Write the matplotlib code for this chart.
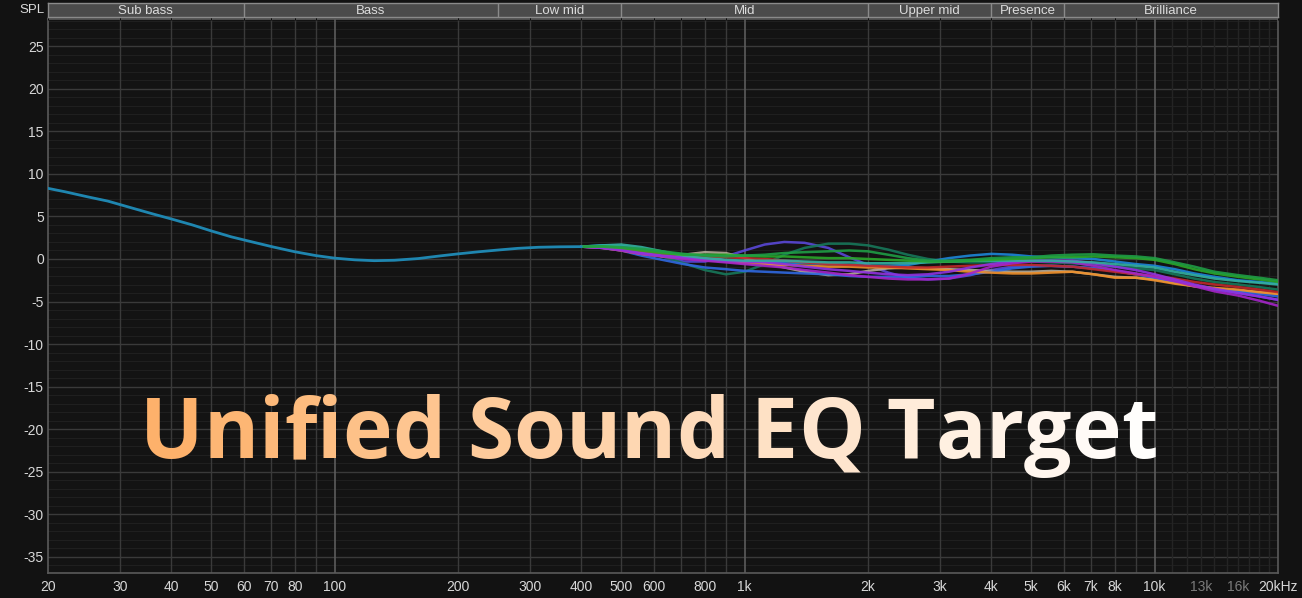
import numpy as np
import matplotlib.pyplot as plt
from matplotlib.font_manager import FontProperties
from matplotlib.colors import to_rgb

# ---- data ----
BASE_F = [20, 22, 25, 28, 32, 36, 40, 45, 50, 56, 63, 71, 80, 90, 100, 112, 125,
          140, 160, 180, 200, 225, 250, 280, 315, 355, 400]
BASE_DB = [8.3, 7.9, 7.3, 6.8, 6.0, 5.3, 4.7, 4.0, 3.3, 2.6, 2.0, 1.4, 0.85, 0.4,
           0.1, -0.1, -0.2, -0.15, 0.05, 0.35, 0.6, 0.85, 1.05, 1.25, 1.38, 1.43, 1.45]

HI_F = [400, 450, 500, 560, 630, 710, 800, 900, 1000, 1120, 1250, 1400, 1600, 1800,
        2000, 2240, 2500, 2800, 3150, 3550, 4000, 4500, 5000, 5600, 6300, 7100, 8000,
        9000, 10000, 11200, 12500, 14000, 16000, 18000, 20000]
CURVES = {
    "#5a48d8": [1.45, 1.45, 1.3, 0.9, 0.3, -0.3, -0.3, 0.3, 1.0, 1.7, 2.0, 1.9, 1.3, 0.2,
                -0.7, -1.6, -2.2, -2.4, -2.3, -1.9, -1.3, -0.9, -0.8, -0.8, -0.9, -1.1, -1.4,
                -1.8, -2.1, -2.6, -3.1, -3.6, -4.0, -4.4, -4.8],
    "#17785a": [1.45, 1.5, 1.3, 0.9, 0.3, -0.5, -1.3, -1.8, -1.5, -0.6, 0.5, 1.3, 1.8, 1.8,
                1.6, 1.1, 0.5, 0.0, -0.3, -0.4, -0.4, -0.3, -0.3, -0.4, -0.5, -0.7, -0.9,
                -1.1, -1.3, -1.8, -2.3, -2.7, -3.0, -3.3, -3.6],
    "#b5ab98": [1.45, 1.4, 1.2, 0.8, 0.5, 0.5, 0.8, 0.7, 0.1, -0.5, -1.0, -1.5, -1.9, -1.8,
                -1.4, -1.1, -1.0, -1.1, -1.2, -1.3, -1.4, -1.5, -1.5, -1.4, -1.5, -1.8, -2.1,
                -2.2, -2.4, -2.8, -3.2, -3.5, -3.7, -3.9, -4.1],
    "#2f68e0": [1.45, 1.3, 1.0, 0.4, -0.1, -0.6, -1.0, -1.2, -1.4, -1.5, -1.6, -1.7, -1.8,
                -2.0, -2.1, -2.1, -2.1, -2.0, -2.0, -1.8, -1.5, -1.1, -0.9, -0.8, -0.9, -1.1,
                -1.4, -1.8, -2.2, -2.7, -3.1, -3.5, -3.8, -4.1, -4.4],
    "#1d86d8": [1.45, 1.6, 1.5, 1.2, 0.7, 0.2, -0.1, -0.3, -0.3, -0.3, -0.4, -0.5, -0.6,
                -0.7, -0.8, -0.8, -0.7, -0.3, 0.1, 0.4, 0.6, 0.5, 0.3, 0.2, 0.1, 0.0, -0.3,
                -0.6, -0.8, -1.2, -1.7, -2.1, -2.5, -2.7, -2.9],
    "#f0902a": [1.45, 1.3, 1.0, 0.6, 0.3, 0.1, -0.1, -0.3, -0.5, -0.6, -0.7, -0.8, -0.9,
                -0.9, -1.0, -1.0, -1.1, -1.2, -1.3, -1.5, -1.6, -1.7, -1.7, -1.6, -1.5, -1.8,
                -2.2, -2.2, -2.5, -2.9, -3.2, -3.4, -3.6, -3.9, -4.1],
    "#c0282a": [1.45, 1.4, 1.2, 0.9, 0.6, 0.4, 0.3, 0.2, 0.1, 0.0, -0.2, -0.4, -0.6, -0.7,
                -0.8, -0.9, -1.0, -1.0, -0.9, -0.8, -0.7, -0.7, -0.7, -0.8, -0.9, -1.2, -1.5,
                -1.8, -2.0, -2.3, -2.7, -3.0, -3.3, -3.6, -3.9],
    "#a424c8": [1.45, 1.3, 1.0, 0.6, 0.3, 0.0, -0.2, -0.4, -0.6, -0.8, -1.0, -1.3, -1.6,
                -1.9, -2.1, -2.3, -2.4, -2.4, -2.3, -1.7, -0.9, -0.5, -0.3, -0.3, -0.4, -0.8,
                -1.3, -1.7, -2.1, -2.6, -3.2, -3.8, -4.3, -4.9, -5.5],
    "#9032e0": [1.45, 1.3, 1.1, 0.7, 0.4, 0.2, 0.0, -0.2, -0.3, -0.4, -0.6, -0.9, -1.2,
                -1.4, -1.6, -1.8, -1.9, -1.8, -1.5, -1.0, -0.6, -0.3, -0.2, -0.2, -0.2, -0.5,
                -0.9, -1.3, -1.8, -2.4, -3.0, -3.5, -4.0, -4.4, -4.8],
    "#33b0a0": [1.45, 1.6, 1.7, 1.4, 0.9, 0.4, 0.1, -0.1, -0.2, -0.2, -0.2, -0.3, -0.4,
                -0.4, -0.5, -0.5, -0.5, -0.4, -0.3, -0.2, -0.2, -0.2, -0.2, -0.2, -0.3, -0.4,
                -0.6, -0.8, -1.0, -1.5, -1.9, -2.3, -2.6, -2.8, -3.0],
    "#2aa82a": [1.45, 1.45, 1.3, 1.0, 0.7, 0.5, 0.5, 0.5, 0.4, 0.3, 0.3, 0.2, 0.1, 0.1,
                0.0, -0.1, -0.2, -0.3, -0.3, -0.2, -0.1, 0.0, 0.1, 0.2, 0.2, 0.3, 0.2, 0.1,
                -0.1, -0.6, -1.2, -1.7, -2.1, -2.4, -2.7],
    "#1f9e45": [1.45, 1.5, 1.4, 1.2, 0.9, 0.6, 0.4, 0.3, 0.4, 0.5, 0.7, 0.8, 0.9, 1.0,
                0.9, 0.5, 0.1, -0.2, -0.2, -0.1, 0.1, 0.2, 0.2, 0.4, 0.5, 0.55, 0.4, 0.3,
                0.1, -0.4, -0.9, -1.5, -1.9, -2.2, -2.5],
}

BAND_EDGES = [20, 60, 250, 500, 2000, 4000, 6000, 20000]
BAND_NAMES = ["Sub bass", "Bass", "Low mid", "Mid", "Upper mid", "Presence", "Brilliance"]

XTICKS = [20, 30, 40, 50, 60, 70, 80, 100, 200, 300, 400, 500, 600, 800, 1000,
          2000, 3000, 4000, 5000, 6000, 7000, 8000, 10000, 13000, 16000, 20000]
XLABELS = ["20", "30", "40", "50", "60", "70", "80", "100", "200", "300", "400", "500",
           "600", "800", "1k", "2k", "3k", "4k", "5k", "6k", "7k", "8k", "10k", "13k",
           "16k", "20kHz"]
DIM_LABELS = ["13k", "16k"]
YTICKS = list(range(-35, 30, 5))

DECADE_LINES = [100, 1000, 10000]
GRID_LINES = [30, 40, 50, 60, 70, 80, 90, 200, 300, 400, 500, 600, 700, 800, 900,
              2000, 3000, 4000, 5000, 6000, 7000, 8000, 9000]
FINE_LINES = [11000, 12000, 13000, 14000, 15000, 16000, 17000, 18000, 19000]

TITLE = "Unified Sound EQ Target"

# ---- figure ----
BG = "#121212"
W, H = 1302, 598
fig = plt.figure(figsize=(W / 100, H / 100), dpi=100, facecolor=BG)
plt.rcParams["font.family"] = ["Liberation Sans", "DejaVu Sans"]

ax = fig.add_axes([48 / W, (H - 573) / H, (1278 - 48) / W, (573 - 19) / H])
ax.set_facecolor("#131313")
ax.set_xscale("log")
ax.set_xlim(20, 20000)
ax.set_ylim(-36.9, 28.2)

# grid
for v in np.arange(-36, 29, 1):
    ax.axhline(v, color="#1f1f1f", lw=0.8, zorder=0)
for v in YTICKS:
    ax.axhline(v, color="#3a3a3a", lw=1.0, zorder=0.5)
for f in FINE_LINES:
    ax.axvline(f, color="#242424", lw=1.0, zorder=0.5)
for f in GRID_LINES:
    ax.axvline(f, color="#3a3a3a", lw=1.0, zorder=0.5)
for f in DECADE_LINES:
    ax.axvline(f, color="#5c5c5c", lw=1.2, zorder=0.6)

for s in ax.spines.values():
    s.set_color("#5a5a5a")
    s.set_linewidth(1.2)

ax.set_xticks(XTICKS)
ax.set_xticklabels(XLABELS)
ax.xaxis.set_minor_locator(plt.NullLocator())
ax.set_yticks(YTICKS)
ax.set_yticklabels([str(v) for v in YTICKS])
ax.tick_params(length=0, colors="#d8d8d8", labelsize=10)
ax.tick_params(axis="x", pad=5)
ax.tick_params(axis="y", pad=3)
for lab in ax.get_xticklabels():
    if lab.get_text() in DIM_LABELS:
        lab.set_color("#7a7a7a")

# curves
for color, vals in CURVES.items():
    ax.plot(HI_F, vals, color=color, lw=1.8, alpha=0.9, solid_capstyle="round",
            solid_joinstyle="round", zorder=3)
ax.plot(BASE_F, BASE_DB, color="#1f86b0", lw=2.0, zorder=4, solid_capstyle="round",
        solid_joinstyle="round")

# band header
hax = fig.add_axes([48 / W, (H - 17) / H, (1278 - 48) / W, 14 / H])
hax.set_xscale("log")
hax.set_xlim(20, 20000)
hax.set_ylim(0, 1)
hax.set_facecolor("#4b4b4b")
for s in hax.spines.values():
    s.set_color("#8a8a8a")
    s.set_linewidth(1.0)
hax.set_xticks([])
hax.set_yticks([])
for f in BAND_EDGES[1:-1]:
    hax.axvline(f, color="#8a8a8a", lw=1.0)
for lo, hi, name in zip(BAND_EDGES[:-1], BAND_EDGES[1:], BAND_NAMES):
    hax.text(np.sqrt(lo * hi), 0.45, name, ha="center", va="center",
             color="#dcdcdc", fontsize=9.5)
fig.text(45 / W, (H - 10) / H, "SPL", ha="right", va="center", color="#dcdcdc", fontsize=9.5)

# gradient title, one text per character (advance widths without kerning)
prop = FontProperties(family=["Open Sans", "DejaVu Sans"], weight="bold", size=60)
renderer = fig.canvas.get_renderer()


def char_widths(p):
    return [renderer.get_text_width_height_descent(c, p, ismath=False)[0] if c != " "
            else renderer.get_text_width_height_descent("a a", p, ismath=False)[0]
            - 2 * renderer.get_text_width_height_descent("a", p, ismath=False)[0]
            for c in TITLE]


widths = char_widths(prop)
prop.set_size(60 * 1018 / sum(widths))
widths = char_widths(prop)
full_w = sum(widths)
c0 = np.array(to_rgb("#fdaf66"))
c1 = np.array(to_rgb("#ffffff"))
x0, base_y = 140, H - 458
off = 0.0
for ch, w in zip(TITLE, widths):
    if ch != " ":
        t = np.clip((off + w / 2) / full_w, 0, 1)
        col = c0 + (c1 - c0) * t
        fig.text((x0 + off) / W, base_y / H, ch, fontproperties=prop, color=col,
                 ha="left", va="baseline", zorder=10)
    off += w

fig.savefig("out.png", dpi=100, facecolor=BG)
